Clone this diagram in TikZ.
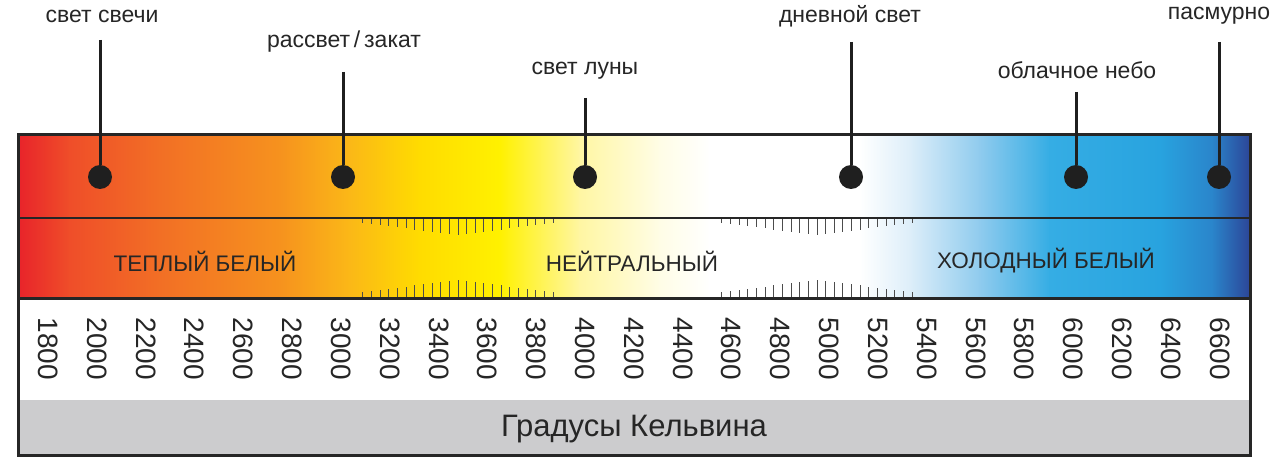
\documentclass[tikz,border=0pt]{standalone}
\usepackage{fontspec}
\setmainfont{Liberation Sans}
\usetikzlibrary{positioning}

% band colours, left to right
\definecolor{g0}{HTML}{E8232A}
\definecolor{g1}{HTML}{EF4E29}
\definecolor{g2}{HTML}{F26F25}
\definecolor{g3}{HTML}{F6921E}
\definecolor{g4}{HTML}{FBB817}
\definecolor{g5}{HTML}{FFDC00}
\definecolor{g6}{HTML}{FFF100}
\definecolor{g7}{HTML}{FFF6A3}
\definecolor{g8}{HTML}{FFFDE6}
\definecolor{g9}{HTML}{FFFFFF}
\definecolor{g10}{HTML}{DDEEF9}
\definecolor{g11}{HTML}{8FCBEE}
\definecolor{g12}{HTML}{35ADE4}
\definecolor{g13}{HTML}{28A3DF}
\definecolor{g14}{HTML}{2A85CB}
\definecolor{g15}{HTML}{2C4597}
\definecolor{frame}{HTML}{262626}
\definecolor{scalegray}{HTML}{CCCCCE}

\begin{document}
\begin{tikzpicture}[x=1pt, y=-1pt,
    lbl/.style={font=\fontsize{23}{27}\selectfont, text=black!85, inner sep=0pt},
    zone/.style={font=\fontsize{22.5}{26}\selectfont, text=black!85, inner sep=0pt},
    kelvin/.style={font=\fontsize{28}{32}\selectfont, rotate=-90, inner sep=0pt, text=black!85},
    spot/.style={circle, fill=black!88, minimum size=24pt, inner sep=0pt},
    leader/.style={line width=3pt, black!88},
    tickline/.style={line width=1pt, black!70}]
    \useasboundingbox[fill=white] (0,0) rectangle (1280,473);

    % Colour band
    \foreach \xa/\xb/\ca/\cb in {18/70/g0/g1, 70/160/g1/g2, 160/280/g2/g3, 280/350/g3/g4,
        350/420/g4/g5, 420/500/g5/g6, 500/580/g6/g7, 580/660/g7/g8, 660/710/g8/g9,
        710/860/g9/g9, 860/910/g9/g10, 910/980/g10/g11, 980/1050/g11/g12,
        1050/1160/g12/g13, 1160/1212/g13/g14, 1212/1250/g14/g15}
        \shade[left color=\ca, right color=\cb] (\xa-0.3,135) rectangle (\xb+0.3,298);

    % Scale part
    \fill[white] (18,298) rectangle (1250,400);
    \fill[scalegray] (18,400) rectangle (1250,455);

    % Ticks
    \foreach \c in {458,817}
        \foreach \i in {0,...,22} {
            \pgfmathsetmacro\len{5+12*(1-abs(\i-11)/11)}
            \draw[tickline] ({\c+8.64*(\i-11)},218) -- ++(0,\len);
            \draw[tickline] ({\c+8.64*(\i-11)},298) -- ++(0,-\len-1);
        }

    % Frame
    \draw[frame, line width=1.2pt] (18,218) -- (1250,218);
    \draw[frame, line width=3pt] (18,298) -- (1250,298);
    \draw[frame, line width=3pt] (18,135) rectangle (1250,455);

    % Zones
    \node[zone] (warm) at (205,261) {ТЕПЛЫЙ БЕЛЫЙ};
    \node[zone] (neutral) at (632,261) {НЕЙТРАЛЬНЫЙ};
    \node[zone] (cool) at (1046,261) {ХОЛОДНЫЙ БЕЛЫЙ};

    % Kelvin values
    \foreach \k in {0,...,24} {
        \pgfmathtruncatemacro\val{1800+200*\k}
        \node[kelvin] (k\k) at ({48+48.83*\k},349) {\val};
    }
    \node[font=\fontsize{31}{35}\selectfont, text=black!85, inner sep=0pt] (title) at (634,429) {Градусы Кельвина};

    % Light sources
    \node[spot] (candle) at (100,177) {};
    \node[spot] (dawn) at (343,177) {};
    \node[spot] (moon) at (585,177) {};
    \node[spot] (day) at (851,177) {};
    \node[spot] (cloud) at (1076,177) {};
    \node[spot] (overcast) at (1219,177) {};

    \node[lbl] (candleL) at (102,16) {свет свечи};
    \node[lbl] (dawnL) at (344,42) {рассвет\,/\,закат};
    \node[lbl] (moonL) at (585,71) {свет луны};
    \node[lbl] (dayL) at (850,16) {дневной свет};
    \node[lbl] (cloudL) at (1077,70) {облачное небо};
    \node[lbl] (overcastL) at (1219,16) {пасмурно};

    \coordinate (candleT) at (100,40);
    \coordinate (dawnT) at (343,72);
    \coordinate (moonT) at (585,98);
    \coordinate (dayT) at (851,42);
    \coordinate (cloudT) at (1076,92);
    \coordinate (overcastT) at (1219,42);

    \foreach \s in {candle,dawn,moon,day,cloud,overcast}
        \draw[leader] (\s T) -- (\s);
\end{tikzpicture}
\end{document}
